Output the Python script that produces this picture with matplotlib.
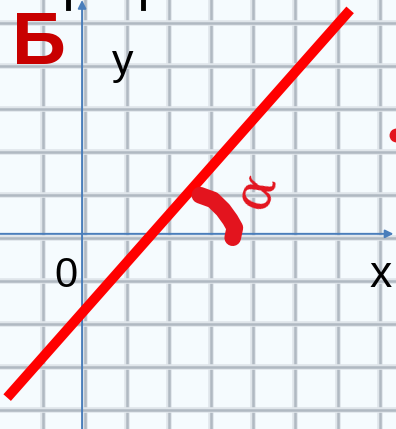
import numpy as np
import matplotlib
matplotlib.use("Agg")
import matplotlib.pyplot as plt

# --- chart data (grid cell = 1 unit) ---
line_x = [-1.78, 6.37]
line_y = [-3.81, 5.21]
axis_labels = {"x": "x", "y": "y", "origin": "0"}
panel_letter = "Б"
angle_label = "α"

# view window and graph-paper grid
x_min, x_max = -1.95, 7.46
y_min, y_max = -4.54, 5.44
grid_x = np.arange(-0.93, 7.5, 1.0)
grid_y = np.arange(-4.09, 5.0, 1.0)

fig = plt.figure(figsize=(3.96, 4.29), dpi=100)
ax = fig.add_axes([0, 0, 1, 1])
ax.set_xlim(x_min, x_max)
ax.set_ylim(y_min, y_max)
ax.set_facecolor("#f5fbfe")
for s in ax.spines.values():
    s.set_visible(False)
ax.set_xticks([])
ax.set_yticks([])

# soft graph-paper lines: wide pale halo plus darker core
for gx in grid_x:
    ax.axvline(gx, color="#dfe5ea", lw=4.0, zorder=1)
    ax.axvline(gx, color="#b0b9c2", lw=1.8, zorder=1)
for gy in grid_y:
    ax.axhline(gy, color="#dfe5ea", lw=4.0, zorder=1)
    ax.axhline(gy, color="#b0b9c2", lw=1.8, zorder=1)

# coordinate axes with arrow heads
axis_col = "#4a7ebb"
ax.annotate("", xy=(7.4, 0), xytext=(x_min, 0),
            arrowprops=dict(arrowstyle="-|>", color=axis_col, lw=1.4,
                            mutation_scale=12, shrinkA=0, shrinkB=0), zorder=3)
ax.annotate("", xy=(0, y_max), xytext=(0, y_min),
            arrowprops=dict(arrowstyle="-|>", color=axis_col, lw=1.4,
                            mutation_scale=12, shrinkA=0, shrinkB=0), zorder=3)

# the straight line
ax.plot(line_x, line_y, color="#ff0000", lw=7.2, solid_capstyle="butt", zorder=5)

# hand-drawn angle mark near the x-intercept
arc_x = [2.80, 3.11, 3.35, 3.52, 3.63, 3.58]
arc_y = [0.90, 0.79, 0.56, 0.33, 0.14, -0.09]
ax.plot(arc_x, arc_y, color="#e3141e", lw=12, solid_capstyle="round",
        solid_joinstyle="round", zorder=6)
ax.text(4.12, 1.0, angle_label, color="#e3141e", fontsize=38,
        family="DejaVu Serif", ha="center", va="center",
        rotation=70, zorder=6)

# small red mark cut by the right edge
ax.plot([7.47], [2.3], marker="o", ms=9, color="#e3141e", zorder=6,
        clip_on=True)

# fragments of text cut by the top edge
ax.plot([-0.33, -0.33], [5.44, 5.25], color="black", lw=3.5, zorder=4)
ax.plot([1.45, 1.45], [5.44, 5.25], color="black", lw=3.5, zorder=4)

# labels
font = "Liberation Sans"
ax.text(-1.67, 4.41, panel_letter, color="#c80000", fontsize=54,
        fontweight="bold", family=font, ha="left", va="center", zorder=7)
ax.text(0.97, 3.98, axis_labels["y"], color="black", fontsize=31,
        family=font, ha="center", va="center", zorder=7)
ax.text(-0.39, -0.98, axis_labels["origin"], color="black", fontsize=30,
        family=font, ha="center", va="center", zorder=7)
ax.text(7.1, -0.97, axis_labels["x"], color="black", fontsize=32,
        family=font, ha="center", va="center", zorder=7)

fig.savefig("out.png", dpi=100)
